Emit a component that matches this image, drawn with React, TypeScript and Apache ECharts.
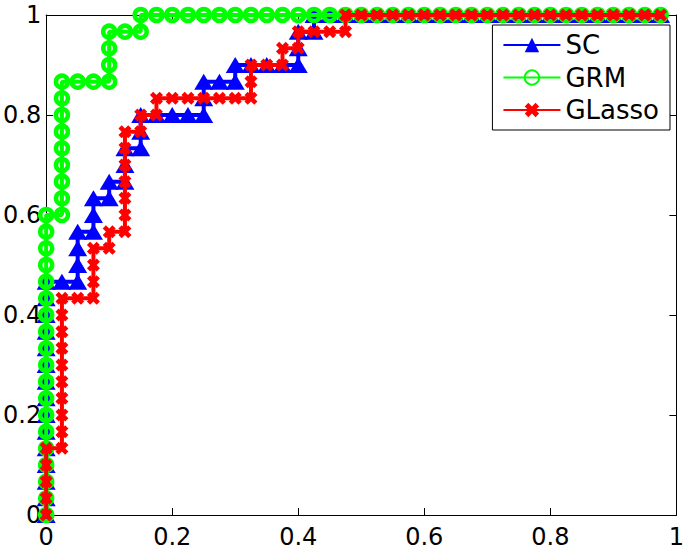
import React, { useEffect, useRef } from "react";
import * as echarts from "echarts";

// Totals used to turn counts into rates (x: false positives of 40, y: true positives of 30)
const NEG_TOTAL = 40;
const POS_TOTAL = 30;

const xTicks = [0, 0.2, 0.4, 0.6, 0.8, 1];
const yTicks = [0, 0.2, 0.4, 0.6, 0.8, 1];
const seriesNames = ["SC", "GRM", "GLasso"];
const seriesColors = ["#0000ff", "#00ff00", "#ff0000"];

// [falsePositiveCount, truePositiveCount]
const scCounts: number[][] = [
  [0, 0], [0, 1], [0, 2], [0, 3], [0, 4], [0, 5], [0, 6], [0, 7], [0, 8], [0, 9], [0, 10], [0, 11], [0, 12], [0, 13], [0, 14],
  [1, 14], [2, 14], [2, 15], [2, 16], [2, 17], [3, 17], [3, 18], [3, 19], [4, 19], [4, 20],
  [5, 20], [5, 21], [5, 22], [6, 22], [6, 23], [6, 24], [7, 24], [8, 24], [9, 24], [10, 24],
  [10, 25], [10, 26], [11, 26], [12, 26], [12, 27], [13, 27], [14, 27], [15, 27], [16, 27],
  [16, 28], [16, 29], [17, 29], [17, 30], [18, 30], [19, 30], [20, 30], [21, 30], [22, 30],
  [23, 30], [24, 30], [25, 30], [26, 30], [27, 30], [28, 30], [29, 30], [30, 30], [31, 30],
  [32, 30], [33, 30], [34, 30], [35, 30], [36, 30], [37, 30], [38, 30], [39, 30],
];

const grmCounts: number[][] = [
  [0, 0], [0, 1], [0, 2], [0, 3], [0, 4], [0, 5], [0, 6], [0, 7], [0, 8], [0, 9], [0, 10], [0, 11], [0, 12], [0, 13], [0, 14],
  [0, 15], [0, 16], [0, 17], [0, 18], [1, 18], [1, 19], [1, 20], [1, 21], [1, 22], [1, 23], [1, 24], [1, 25], [1, 26],
  [2, 26], [3, 26], [4, 26], [4, 27], [4, 28], [4, 29], [5, 29], [6, 29], [6, 30], [7, 30], [8, 30], [9, 30], [10, 30],
  [11, 30], [12, 30], [13, 30], [14, 30], [15, 30], [16, 30], [17, 30], [18, 30], [19, 30], [20, 30], [21, 30], [22, 30],
  [23, 30], [24, 30], [25, 30], [26, 30], [27, 30], [28, 30], [29, 30], [30, 30], [31, 30], [32, 30], [33, 30], [34, 30],
  [35, 30], [36, 30], [37, 30], [38, 30], [39, 30],
];

const glassoCounts: number[][] = [
  [0, 0], [0, 1], [0, 2], [0, 3], [0, 4], [1, 4], [1, 5], [1, 6], [1, 7], [1, 8], [1, 9], [1, 10], [1, 11], [1, 12], [1, 13],
  [2, 13], [3, 13], [3, 14], [3, 15], [3, 16], [4, 16], [4, 17], [5, 17], [5, 18], [5, 19], [5, 20], [5, 21], [5, 22],
  [5, 23], [6, 23], [6, 24], [7, 24], [7, 25], [8, 25], [9, 25], [10, 25], [11, 25], [12, 25], [13, 25], [13, 26],
  [13, 27], [14, 27], [15, 27], [15, 28], [16, 28], [16, 29], [17, 29], [18, 29], [19, 29], [19, 30], [20, 30], [21, 30],
  [22, 30], [23, 30], [24, 30], [25, 30], [26, 30], [27, 30], [28, 30], [29, 30], [30, 30], [31, 30], [32, 30], [33, 30],
  [34, 30], [35, 30], [36, 30], [37, 30], [38, 30], [39, 30],
];

const toRates = (counts: number[][]) => counts.map(([fp, tp]) => [fp / NEG_TOTAL, tp / POS_TOTAL]);

const FONT = "'DejaVu Sans', Verdana, sans-serif";
const xMarkPath = "path://M0,3L3,0L6,3L9,0L12,3L9,6L12,9L9,12L6,9L3,12L0,9L3,6Z";

const fmt = (v: number) => String(parseFloat(Number(v).toFixed(1)));

export default function App() {
  const ref = useRef<HTMLDivElement>(null);
  useEffect(() => {
    if (!ref.current) return;
    const chart = echarts.init(ref.current, undefined, { renderer: "svg" });
    const axisCommon = {
      type: "value" as const,
      min: xTicks[0],
      max: xTicks[xTicks.length - 1],
      interval: 0.2,
      splitLine: { show: false },
      axisLine: { show: true, onZero: false, lineStyle: { color: "#000", width: 1 } },
      axisTick: { show: true, inside: true, length: 7, lineStyle: { color: "#000", width: 1 } },
    };
    const labelStyle = { color: "#000", fontSize: 24, fontFamily: FONT, formatter: fmt };
    chart.setOption({
      animation: false,
      backgroundColor: "#fff",
      grid: { left: 45, right: 5, top: 15, bottom: 36, containLabel: false },
      xAxis: [
        { ...axisCommon, position: "bottom", axisLabel: { ...labelStyle, margin: 10, showMinLabel: true, showMaxLabel: true } },
        { ...axisCommon, position: "top", axisLabel: { show: false } },
      ],
      yAxis: [
        { ...axisCommon, min: yTicks[0], max: yTicks[yTicks.length - 1], position: "left", axisLabel: { ...labelStyle, margin: 5 } },
        { ...axisCommon, min: yTicks[0], max: yTicks[yTicks.length - 1], position: "right", axisLabel: { show: false } },
      ],
      legend: {
        data: seriesNames,
        orient: "vertical",
        right: 17,
        top: 25,
        backgroundColor: "#fff",
        borderColor: "#000",
        borderWidth: 1,
        borderRadius: 0,
        padding: [7, 11, 7, 10],
        itemWidth: 57,
        itemHeight: 18,
        itemGap: 6.5,
        textStyle: { color: "#000", fontSize: 26, lineHeight: 26, fontFamily: FONT },
      },
      series: [
        {
          name: seriesNames[0],
          type: "line",
          data: toRates(scCounts),
          clip: false,
          symbol: "triangle",
          symbolSize: [19, 16],
          lineStyle: { color: seriesColors[0], width: 4 },
          itemStyle: { color: seriesColors[0] },
          z: 2,
        },
        {
          name: seriesNames[1],
          type: "line",
          data: toRates(grmCounts),
          clip: false,
          symbol: "circle",
          symbolSize: 12,
          lineStyle: { color: seriesColors[1], width: 4 },
          itemStyle: { color: "rgba(255,255,255,0)", borderColor: seriesColors[1], borderWidth: 4.5 },
          z: 3,
        },
        {
          name: seriesNames[2],
          type: "line",
          data: toRates(glassoCounts),
          clip: false,
          symbol: xMarkPath,
          symbolSize: 13,
          lineStyle: { color: seriesColors[2], width: 4 },
          itemStyle: { color: seriesColors[2] },
          z: 4,
        },
      ],
    });
    return () => chart.dispose();
  }, []);
  return (
    <div
      ref={ref}
      style={{ position: "fixed", left: 0, top: 0, width: 687, height: 551, background: "#fff" }}
    />
  );
}
